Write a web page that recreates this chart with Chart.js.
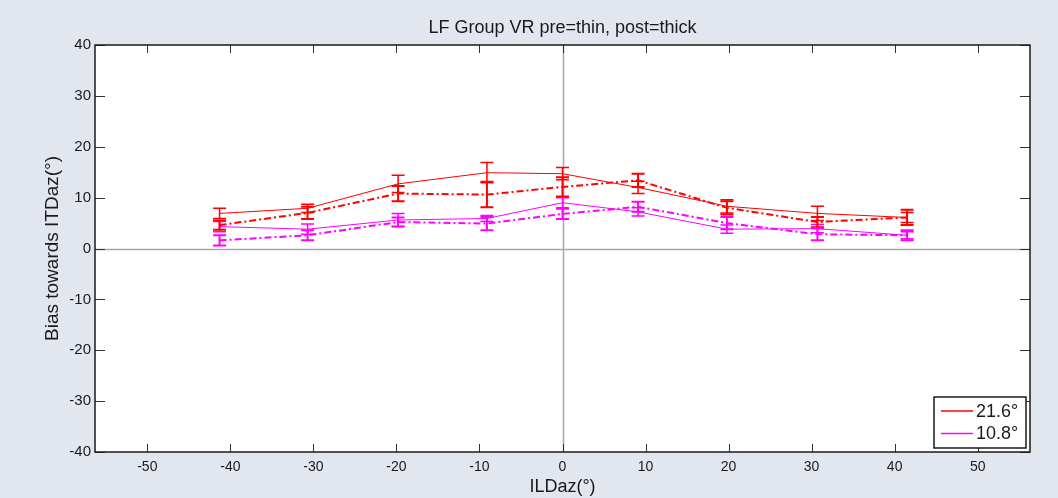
<!DOCTYPE html>
<html>
<head>
<meta charset="utf-8">
<script src="https://cdn.jsdelivr.net/npm/chart.js@4"></script>
<style>
  html, body { margin: 0; padding: 0; background: #e2e6ee; }
  #wrap { width: 1058px; height: 498px; }
</style>
</head>
<body>
<div id="wrap"><canvas id="myChart" width="1058" height="498"></canvas></div>
<script>
// ILD azimuth of each condition (slightly jittered in the original plot)
const ildAz = [-41.3, -30.7, -19.8, -9.1, 0, 9.1, 19.8, 30.7, 41.5];

// pre (thin, solid)
const red216Pre = [6.9, 7.9, 12.7, 14.9, 14.7, 12.0, 8.3, 6.9, 6.1];
const red216PreErr = [1.0, 0.8, 1.7, 2.0, 1.2, 1.2, 1.3, 1.4, 1.0];
const mag108Pre = [4.3, 3.8, 5.6, 5.9, 9.0, 7.2, 3.8, 3.9, 2.6];
const mag108PreErr = [1.0, 1.0, 1.3, 0.6, 1.0, 0.8, 0.8, 0.8, 0.7];

// post (thick, dash-dot)
const red216Post = [4.6, 7.0, 10.8, 10.6, 12.1, 13.4, 8.0, 5.2, 6.1];
const red216PostErr = [0.9, 1.2, 1.5, 2.5, 1.9, 1.3, 1.3, 1.0, 1.5];
const mag108Post = [1.6, 2.6, 5.2, 4.9, 6.8, 8.2, 5.0, 2.8, 2.6];
const mag108PostErr = [1.0, 1.0, 0.9, 1.3, 1.0, 1.0, 1.2, 1.2, 1.0];

const xTicks = [-50, -40, -30, -20, -10, 0, 10, 20, 30, 40, 50];
const yTicks = [-40, -30, -20, -10, 0, 10, 20, 30, 40];

const RED = '#ff0000';
const MAG = '#ff00ff';
const FONT = '"Liberation Sans", Arial, sans-serif';

function pts(ys) {
  return ys.map((y, i) => ({ x: ildAz[i], y: y }));
}

// MATLAB-ish frame: box, inward ticks, zero lines, title, labels, legend
const matlabFrame = {
  id: 'matlabFrame',
  beforeDatasetsDraw(chart) {
    const { ctx, chartArea: a, scales: { x, y } } = chart;
    ctx.save();
    ctx.fillStyle = '#ffffff';
    ctx.fillRect(a.left, a.top, a.right - a.left, a.bottom - a.top);
    // zero lines
    ctx.strokeStyle = '#a8a8a8';
    ctx.lineWidth = 1.5;
    ctx.beginPath();
    const x0 = Math.round(x.getPixelForValue(0)) + 0.5;
    const y0 = Math.round(y.getPixelForValue(0)) + 0.5;
    ctx.moveTo(x0, a.top); ctx.lineTo(x0, a.bottom);
    ctx.moveTo(a.left, y0); ctx.lineTo(a.right, y0);
    ctx.stroke();
    ctx.restore();
  },
  afterDatasetsDraw(chart) {
    const { ctx, chartArea: a, scales: { x, y } } = chart;
    ctx.save();

    // error bars
    chart.data.datasets.forEach((ds, di) => {
      if (!ds.errors) return;
      ctx.strokeStyle = ds.borderColor;
      ctx.lineWidth = ds.barWidth;
      ds.data.forEach((p, i) => {
        const px = x.getPixelForValue(p.x);
        const yt = y.getPixelForValue(p.y + ds.errors[i]);
        const yb = y.getPixelForValue(p.y - ds.errors[i]);
        ctx.beginPath();
        ctx.moveTo(px, yt); ctx.lineTo(px, yb);
        ctx.moveTo(px - 6.5, yt); ctx.lineTo(px + 6.5, yt);
        ctx.moveTo(px - 6.5, yb); ctx.lineTo(px + 6.5, yb);
        ctx.stroke();
      });
    });

    // inward ticks
    ctx.strokeStyle = '#333333';
    ctx.lineWidth = 1;
    ctx.beginPath();
    xTicks.forEach(v => {
      const px = Math.round(x.getPixelForValue(v)) + 0.5;
      ctx.moveTo(px, a.bottom); ctx.lineTo(px, a.bottom - 8);
      ctx.moveTo(px, a.top); ctx.lineTo(px, a.top + 8);
    });
    yTicks.forEach(v => {
      const py = Math.round(y.getPixelForValue(v)) + 0.5;
      ctx.moveTo(a.left, py); ctx.lineTo(a.left + 10, py);
      ctx.moveTo(a.right, py); ctx.lineTo(a.right - 10, py);
    });
    ctx.stroke();

    // box
    ctx.strokeStyle = '#1a1a1a';
    ctx.lineWidth = 1.5;
    ctx.strokeRect(a.left, a.top, a.right - a.left, a.bottom - a.top);

    // title and axis labels
    ctx.fillStyle = '#1a1a1a';
    ctx.font = '18px ' + FONT;
    ctx.textAlign = 'center';
    ctx.textBaseline = 'alphabetic';
    ctx.fillText('LF Group VR pre=thin, post=thick', (a.left + a.right) / 2, 33);
    ctx.fillText('ILDaz(°)', (a.left + a.right) / 2, 492);
    ctx.save();
    ctx.translate(58, (a.top + a.bottom) / 2);
    ctx.rotate(-Math.PI / 2);
    ctx.font = '19px ' + FONT;
    ctx.fillText('Bias towards ITDaz(°)', 0, 0);
    ctx.restore();

    // legend (first two datasets)
    const lx = 934, ly = 397, lw = 92, lh = 51;
    ctx.fillStyle = '#ffffff';
    ctx.fillRect(lx, ly, lw, lh);
    ctx.strokeStyle = '#1a1a1a';
    ctx.lineWidth = 1.5;
    ctx.strokeRect(lx, ly, lw, lh);
    ctx.font = '18px ' + FONT;
    ctx.textAlign = 'left';
    ctx.textBaseline = 'middle';
    chart.data.datasets.slice(0, 2).forEach((ds, i) => {
      const ry = ly + 14 + i * 22.5;
      ctx.strokeStyle = ds.borderColor;
      ctx.lineWidth = 1.5;
      ctx.beginPath();
      ctx.moveTo(lx + 7, ry); ctx.lineTo(lx + 39, ry);
      ctx.stroke();
      ctx.fillStyle = '#1a1a1a';
      ctx.fillText(ds.label, lx + 42, ry + 1);
    });
    ctx.restore();
  }
};

const ctx = document.getElementById('myChart').getContext('2d');
const chart = new Chart(ctx, {
  type: 'scatter',
  data: {
    datasets: [
      { label: '21.6°', data: pts(red216Pre), errors: red216PreErr, borderColor: RED, borderWidth: 1, barWidth: 1.5, showLine: true, pointRadius: 0 },
      { label: '10.8°', data: pts(mag108Pre), errors: mag108PreErr, borderColor: MAG, borderWidth: 1, barWidth: 1.5, showLine: true, pointRadius: 0 },
      { label: '21.6° post', data: pts(red216Post), errors: red216PostErr, borderColor: RED, borderWidth: 2, barWidth: 2, borderDash: [7, 3, 2, 3], showLine: true, pointRadius: 0 },
      { label: '10.8° post', data: pts(mag108Post), errors: mag108PostErr, borderColor: MAG, borderWidth: 2, barWidth: 2, borderDash: [7, 3, 2, 3], showLine: true, pointRadius: 0 }
    ]
  },
  options: {
    responsive: false,
    animation: false,
    layout: { padding: { top: 45, right: 28, left: 0, bottom: 0 } },
    plugins: { legend: { display: false }, tooltip: { enabled: false }, title: { display: false } },
    scales: {
      x: {
        type: 'linear',
        min: -56.3, max: 56.3,
        afterBuildTicks: s => { s.ticks = xTicks.map(v => ({ value: v })); },
        afterFit: s => { s.height = 46; },
        grid: { display: false, drawTicks: false },
        border: { display: false },
        ticks: { padding: 7, color: '#1a1a1a', font: { size: 14, family: FONT }, maxRotation: 0 }
      },
      y: {
        min: -40, max: 40,
        afterBuildTicks: s => { s.ticks = yTicks.map(v => ({ value: v })); },
        afterFit: s => { s.width = 95; },
        grid: { display: false, drawTicks: false },
        border: { display: false },
        ticks: { padding: 4, color: '#1a1a1a', font: { size: 15, family: FONT } }
      }
    }
  },
  plugins: [matlabFrame]
});
</script>
</body>
</html>
